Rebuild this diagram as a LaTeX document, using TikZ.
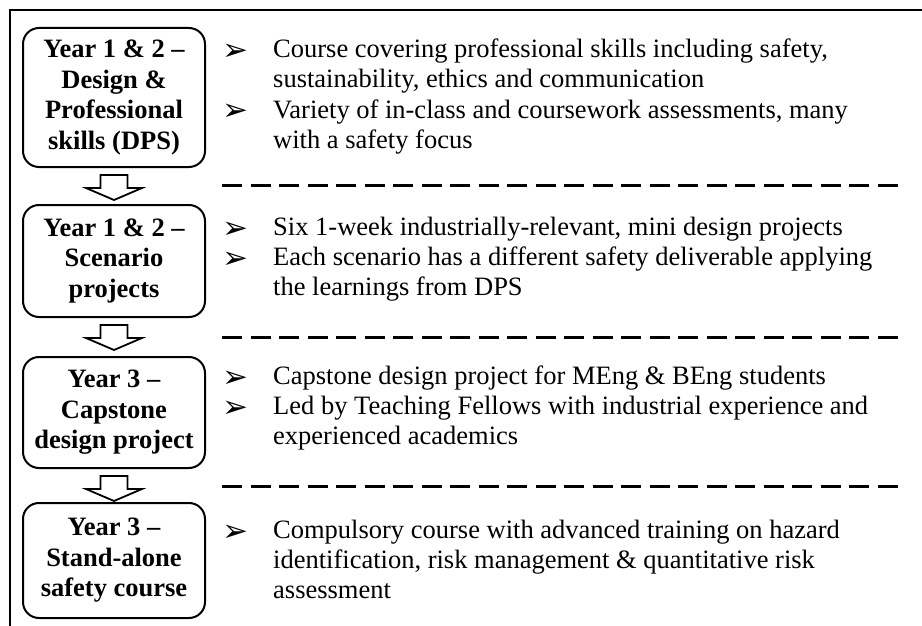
\documentclass[tikz,border=0pt]{standalone}
\usepackage{fontspec}
\setmainfont{Liberation Serif}
\newfontfamily\dejavu{DejaVu Sans}
\usetikzlibrary{calc}
\begin{document}
\begin{tikzpicture}[x=1pt,y=-1pt,
  stage/.style={draw, line width=2pt, rounded corners=16pt, minimum width=182pt,
    align=center, inner sep=0pt, font=\bfseries\fontsize{26.5}{30.5}\selectfont},
  item/.style={anchor=base west, inner sep=0pt, font=\fontsize{26.5}{30.5}\selectfont},
  bul/.style={anchor=base, inner sep=0pt, text height=9pt, text depth=0pt,
    font=\dejavu\fontsize{31}{31}\selectfont},
  sep/.style={line width=3pt, dash pattern=on 20pt off 8.5pt},
  blockarrow/.style={draw, line width=1.8pt, fill=white, line join=miter},
  frame/.style={line width=2.6pt}]
\useasboundingbox (0,0) rectangle (922,626);
% outer frame (cropped)
\coordinate (fbl) at (10,626);
\coordinate (ftl) at (10,10);
\coordinate (ftr) at (922,10);
\draw[frame] (fbl) -- (ftl) -- (ftr);

% stage boxes
\node[stage, minimum height=139pt] (b1) at (114,97.5) {Year 1 \& 2 –\\Design \&\\Professional\\skills (DPS)};
\node[stage, minimum height=112pt] (b2) at (114,261) {Year 1 \& 2 –\\Scenario\\projects};
\node[stage, minimum height=111pt] (b3) at (114,412.5) {Year 3 –\\Capstone\\design project};
\node[stage, minimum height=115pt] (b4) at (114,560.5) {Year 3 –\\Stand-alone\\safety course};

% block arrows between boxes
\foreach \a in {b1,b2,b3}{
  \draw[blockarrow, shift={(\a.south)}] (-13.5,7) -- (13.5,7) -- (13.5,20) -- (28,20) -- (0,32) -- (-28,20) -- (-13.5,20) -- cycle;
}

% dashed separators
\coordinate (d1a) at (222,185); \coordinate (d1b) at (900,185);
\coordinate (d2a) at (222,337); \coordinate (d2b) at (900,337);
\coordinate (d3a) at (222,486); \coordinate (d3b) at (900,486);
\draw[sep] (d1a) -- (d1b);
\draw[sep] (d2a) -- (d2b);
\draw[sep] (d3a) -- (d3b);

% section 1
\node[bul] (u11) at (235,61) {➢};
\node[item] (t11) at (273,58) {Course covering professional skills including safety,};
\node[item] (t12) at (273,88) {sustainability, ethics and communication};
\node[bul] (u12) at (235,121) {➢};
\node[item] (t13) at (273,118) {Variety of in-class and coursework assessments, many};
\node[item] (t14) at (273,148) {with a safety focus};

% section 2
\node[bul] (u21) at (235,238.5) {➢};
\node[item] (t21) at (273,235.5) {Six 1-week industrially-relevant, mini design projects};
\node[bul] (u22) at (235,268.5) {➢};
\node[item] (t22) at (273,265.5) {Each scenario has a different safety deliverable applying};
\node[item] (t23) at (273,295.5) {the learnings from DPS};

% section 3
\node[bul] (u31) at (235,387) {➢};
\node[item] (t31) at (273,384) {Capstone design project for MEng \& BEng students};
\node[bul] (u32) at (235,417) {➢};
\node[item] (t32) at (273,414) {Led by Teaching Fellows with industrial experience and};
\node[item] (t33) at (273,444) {experienced academics};

% section 4
\node[bul] (u41) at (235,541) {➢};
\node[item] (t41) at (273,538) {Compulsory course with advanced training on hazard};
\node[item] (t42) at (273,568) {identification, risk management \& quantitative risk};
\node[item] (t43) at (273,598.5) {assessment};
\end{tikzpicture}
\end{document}
